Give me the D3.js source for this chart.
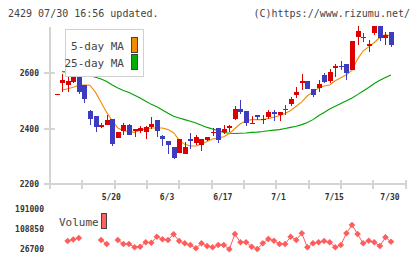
<!DOCTYPE html>
<html>
<head>
<meta charset="utf-8">
<script src="https://cdn.jsdelivr.net/npm/d3@7"></script>
<style>
  body { margin: 0; background: #fff; }
  svg { display: block; }
  text { font-family: "DejaVu Sans Mono", monospace; }
</style>
</head>
<body>
<script>
// trading days, 2025-05-02 .. 2025-07-30
var dates = ["5/2","5/7","5/8","5/9","5/12","5/13","5/14","5/15","5/16","5/19",
  "5/20","5/21","5/22","5/23","5/26","5/27","5/28","5/29","5/30","6/2",
  "6/3","6/4","6/5","6/6","6/9","6/10","6/11","6/12","6/13","6/16",
  "6/17","6/18","6/19","6/20","6/23","6/24","6/25","6/26","6/27","6/30",
  "7/1","7/2","7/3","7/4","7/7","7/8","7/9","7/10","7/11","7/14",
  "7/15","7/16","7/17","7/18","7/22","7/23","7/24","7/25","7/28","7/29",
  "7/30"];
var openP  = [2524,2563,2555,2569,2588,2555,2462,2446,2405,2411,
  2435,2364,2392,2414,2390,2390,2387,2405,2429,2373,
  2354,2332,2311,2307,2361,2346,2342,2357,2386,2402,
  2389,2401,2436,2470,2464,2418,2450,2431,2442,2459,
  2449,2470,2489,2519,2565,2571,2543,2546,2593,2571,
  2619,2625,2632,2612,2730,2728,2699,2744,2771,2726,
  2746];
var highP  = [2524,2596,2587,2596,2604,2555,2468,2446,2420,2450,
  2435,2387,2420,2418,2400,2408,2408,2443,2429,2378,
  2354,2332,2361,2352,2382,2378,2361,2369,2402,2402,
  2412,2414,2480,2501,2464,2446,2450,2450,2468,2468,
  2461,2486,2513,2549,2596,2571,2543,2575,2601,2613,
  2633,2643,2632,2714,2768,2745,2718,2771,2771,2747,
  2746];
var lowP   = [2524,2533,2533,2563,2525,2492,2411,2387,2401,2411,
  2337,2364,2375,2375,2370,2385,2363,2400,2369,2337,
  2307,2289,2311,2307,2327,2339,2319,2355,2372,2346,
  2379,2387,2429,2453,2410,2418,2432,2417,2435,2426,
  2426,2450,2482,2509,2539,2543,2515,2530,2564,2565,
  2585,2611,2575,2612,2702,2710,2676,2736,2714,2700,
  2693];
var closeP = [2524,2574,2571,2587,2532,2508,2435,2405,2414,2430,
  2343,2387,2411,2375,2400,2403,2406,2418,2390,2363,
  2340,2295,2361,2333,2355,2369,2361,2369,2388,2358,
  2399,2408,2471,2461,2419,2420,2440,2433,2459,2451,
  2461,2468,2506,2533,2571,2543,2521,2561,2569,2605,
  2626,2623,2601,2714,2750,2726,2705,2771,2726,2736,
  2700];
var ma5 = [null,2539,2543,2549,2556,2557,2556,2530,2494,2458,
  2428,2402,2392,2389,2386,2394,2399,2402,2402,2402,
  2396,2385,2358,2343,2337,2337,2344,2353,2362,2366,
  2370,2382,2400,2417,2428,2432,2432,2432,2436,2441,
  2447,2454,2465,2480,2496,2518,2531,2546,2553,2557,
  2572,2583,2594,2609,2650,2680,2694,2710,2728,2738,
  2733];
var ma25 = [null,2605,2603,2600,2597,2594,2590,2585,2578,2569,
  2557,2546,2537,2530,2520,2510,2498,2487,2478,2467,
  2455,2444,2438,2432,2426,2420,2412,2404,2398,2392,
  2386,2383,2382,2383,2384,2386,2387,2389,2392,2394,
  2396,2400,2404,2408,2414,2422,2432,2446,2458,2470,
  2480,2490,2500,2510,2522,2535,2548,2562,2574,2584,
  2593];
var volume = [null,null,60000,66000,72000,null,null,null,64000,47400,
  null,64000,47400,47400,33700,36200,54400,52800,77600,66800,
  64000,87500,59800,50300,43300,29600,50300,39100,33700,43300,
  43300,25500,88800,54400,54400,36200,26700,50300,68100,61000,
  47400,47400,77600,64000,91700,33700,50300,54400,59800,54400,
  33700,43300,91700,126000,88800,50300,61000,54400,39100,75100,
  56900];
var priceTicks = [2200, 2400, 2600];
var volTicks = [26700, 108850, 191000];
var dateLabels = ["5/20","6/3","6/17","7/1","7/15","7/30"];

var W = 420, H = 259;
var upColor = "#dd0000", downColor = "#3c3cc0";
var axisColor = "#d4d4d4";

var svg = d3.select("body").append("svg")
  .attr("width", W)
  .attr("height", H);

var x = d3.scaleLinear()
  .domain([-1.17, 62.6])
  .range([50, 405.5]);
var y = d3.scaleLinear()
  .domain([2200, 2600])
  .range([184, 73]);
var yv = d3.scaleLinear()
  .domain([26700, 191000])
  .range([249, 209.3]);

// header
svg.append("text")
  .attr("x", 8).attr("y", 17)
  .attr("font-size", 10)
  .attr("fill", "#444")
  .text("2429 07/30 16:56 updated.");
svg.append("text")
  .attr("x", 410).attr("y", 17)
  .attr("text-anchor", "end")
  .attr("font-size", 10)
  .attr("fill", "#444")
  .text("(C)https://www.rizumu.net/");

// axes
var gAxis = svg.append("g")
  .attr("stroke", axisColor)
  .attr("stroke-width", 2)
  .attr("shape-rendering", "crispEdges");
gAxis.append("line")
  .attr("x1", 50).attr("x2", 50)
  .attr("y1", 27).attr("y2", 189);
gAxis.append("line")
  .attr("x1", 50).attr("x2", 406)
  .attr("y1", 184).attr("y2", 184);
gAxis.selectAll("line.xt")
  .data(d3.range(12))
  .enter().append("line")
  .attr("class", "xt")
  .attr("x1", function(d){ return 50 + d * 355.5 / 11; })
  .attr("x2", function(d){ return 50 + d * 355.5 / 11; })
  .attr("y1", 180).attr("y2", 189);
gAxis.selectAll("line.yt")
  .data(priceTicks)
  .enter().append("line")
  .attr("class", "yt")
  .attr("x1", 44).attr("x2", 55)
  .attr("y1", function(d){ return y(d); })
  .attr("y2", function(d){ return y(d); });

svg.selectAll("text.yl")
  .data(priceTicks)
  .enter().append("text")
  .attr("class", "yl")
  .attr("x", 39).attr("y", function(d){ return y(d) + 3; })
  .attr("text-anchor", "end")
  .attr("font-size", 8).attr("font-weight", "bold")
  .attr("fill", "#333")
  .text(function(d){ return d; });

svg.selectAll("text.xl")
  .data(dateLabels)
  .enter().append("text")
  .attr("class", "xl")
  .attr("x", function(d){ return x(dates.indexOf(d)) - 1; })
  .attr("y", 200)
  .attr("text-anchor", "middle")
  .attr("font-size", 8).attr("font-weight", "bold")
  .attr("fill", "#333")
  .text(function(d){ return d; });

// moving averages
function maLine(arr){
  return d3.line()
    .defined(function(d){ return d != null; })
    .x(function(d, i){ return x(i); })
    .y(function(d){ return y(d); })(arr);
}
svg.append("path")
  .attr("d", maLine(ma25))
  .attr("fill", "none")
  .attr("stroke", "#00a000")
  .attr("stroke-width", 1.1);
svg.append("path")
  .attr("d", maLine(ma5))
  .attr("fill", "none")
  .attr("stroke", "#f08c00")
  .attr("stroke-width", 1.1);

// candles
var candles = svg.selectAll("g.candle")
  .data(dates)
  .enter().append("g")
  .attr("class", "candle")
  .attr("shape-rendering", "crispEdges");
candles.each(function(d, i){
  var g = d3.select(this);
  var col = closeP[i] >= openP[i] ? upColor : downColor;
  var cx = Math.round(x(i));
  g.append("rect")
    .attr("x", cx).attr("width", 1)
    .attr("y", y(highP[i]))
    .attr("height", Math.max(0, y(lowP[i]) - y(highP[i])))
    .attr("fill", col);
  var top = y(Math.max(openP[i], closeP[i]));
  var bot = y(Math.min(openP[i], closeP[i]));
  g.append("rect")
    .attr("x", cx - 2).attr("width", 5)
    .attr("y", top)
    .attr("height", Math.max(1, bot - top))
    .attr("fill", col);
});

// MA legend
var leg = svg.append("g");
leg.append("rect")
  .attr("x", 65.5).attr("y", 29.5)
  .attr("width", 78).attr("height", 47)
  .attr("fill", "#fff")
  .attr("stroke", "#d0d0d0");
var legItems = [["5-day MA", "#f08c00"], ["25-day MA", "#00b000"]];
leg.selectAll("text")
  .data(legItems)
  .enter().append("text")
  .attr("x", 124).attr("y", function(d, i){ return 50 + i * 17; })
  .attr("text-anchor", "end")
  .attr("font-size", 11)
  .attr("fill", "#444")
  .text(function(d){ return d[0]; });
leg.selectAll("rect.sw")
  .data(legItems)
  .enter().append("rect")
  .attr("class", "sw")
  .attr("x", 131.5).attr("y", function(d, i){ return 37.5 + i * 17; })
  .attr("width", 6).attr("height", 15)
  .attr("fill", function(d){ return d[1]; })
  .attr("stroke", "#444");

// volume panel
svg.selectAll("text.vl")
  .data(volTicks)
  .enter().append("text")
  .attr("class", "vl")
  .attr("x", 44).attr("y", function(d){ return yv(d) + 3; })
  .attr("text-anchor", "end")
  .attr("font-size", 8).attr("font-weight", "bold")
  .attr("fill", "#333")
  .text(function(d){ return d; });

svg.append("text")
  .attr("x", 59).attr("y", 226)
  .attr("font-size", 11)
  .attr("fill", "#444")
  .text("Volume");
svg.append("rect")
  .attr("x", 101.5).attr("y", 213.5)
  .attr("width", 5).attr("height", 15)
  .attr("fill", "#ff6060")
  .attr("stroke", "#444");

var volColor = "#ff5c5c";
var volPts = volume
  .map(function(d, i){ return {i: i, v: d}; })
  .filter(function(d){ return d.v != null; });
svg.append("path")
  .attr("d", d3.line()
    .defined(function(d){ return d != null; })
    .x(function(d, i){ return x(i); })
    .y(function(d){ return yv(d); })(volume))
  .attr("fill", "none")
  .attr("stroke", volColor)
  .attr("stroke-width", 1);
svg.selectAll("path.vm")
  .data(volPts)
  .enter().append("path")
  .attr("class", "vm")
  .attr("d", d3.symbol(d3.symbolDiamond2, 28))
  .attr("transform", function(d){
    return "translate(" + x(d.i) + "," + yv(d.v) + ")";
  })
  .attr("fill", volColor);
</script>
</body>
</html>
